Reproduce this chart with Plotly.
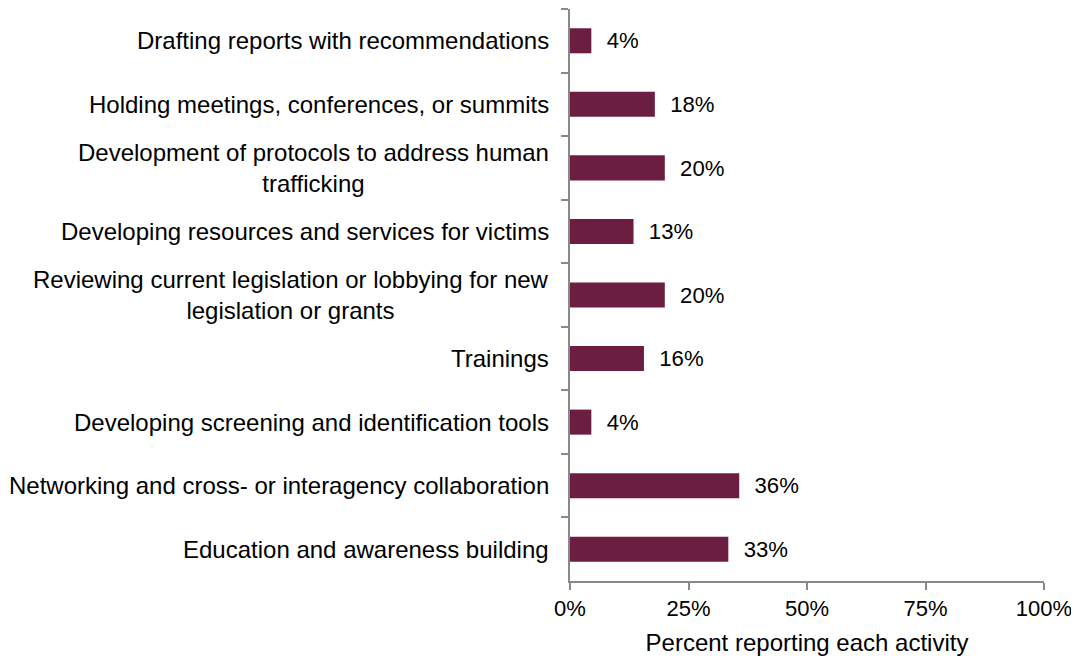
import plotly.graph_objects as go

categories = [
    "Drafting reports with recommendations",
    "Holding meetings, conferences, or summits",
    "Development of protocols to address human<br>trafficking",
    "Developing resources and services for victims",
    "Reviewing current legislation or lobbying for new<br>legislation or grants",
    "Trainings",
    "Developing screening and identification tools",
    "Networking and cross- or interagency collaboration",
    "Education and awareness building",
]
values = [4.5, 17.9, 20.0, 13.4, 20.0, 15.6, 4.5, 35.7, 33.4]
value_labels = ["4%", "18%", "20%", "13%", "20%", "16%", "4%", "36%", "33%"]
x_ticks = [0, 25, 50, 75, 100]
x_tick_labels = ["0%", "25%", "50%", "75%", "100%"]

FONT = "Liberation Sans, Arial, sans-serif"
AXIS = "#898989"

fig = go.Figure()
fig.add_trace(go.Bar(
    x=values,
    y=categories,
    orientation="h",
    marker=dict(color="#6B1E41", line=dict(width=0)),
    text=["\u00a0\u00a0" + t for t in value_labels],
    textposition="outside",
    textfont=dict(family=FONT, size=23, color="#000000"),
    cliponaxis=False,
    hoverinfo="skip",
))

for c in categories:
    fig.add_annotation(
        x=0, xref="paper", y=c, yref="y",
        text=c, showarrow=False, xanchor="right", yanchor="middle",
        align="center", xshift=-19,
        font=dict(family=FONT, size=24, color="#000000"),
    )

fig.update_layout(
    width=1071, height=650,
    margin=dict(l=562, r=35, t=1, b=77),
    paper_bgcolor="white", plot_bgcolor="white",
    bargap=0.606,
    showlegend=False,
    font=dict(family=FONT, size=22, color="#000000"),
    xaxis=dict(
        range=[0, 100],
        tickvals=x_ticks, ticktext=x_tick_labels,
        showgrid=False, zeroline=False,
        showline=True, linecolor=AXIS, linewidth=1.5,
        ticks="outside", ticklen=7, tickcolor=AXIS, tickwidth=1.5,
        tickfont=dict(family=FONT, size=22, color="#000000"),
        title=dict(text="Percent reporting each activity",
                   font=dict(family=FONT, size=24, color="#000000"), standoff=14),
    ),
    yaxis=dict(
        autorange="reversed",
        showticklabels=False,
        showgrid=False, zeroline=False,
        showline=True, linecolor=AXIS, linewidth=1.5,
        ticks="outside", ticklen=7, tickcolor=AXIS, tickwidth=1.5,
        tickson="boundaries",
    ),
)

fig.write_html("out.html")
